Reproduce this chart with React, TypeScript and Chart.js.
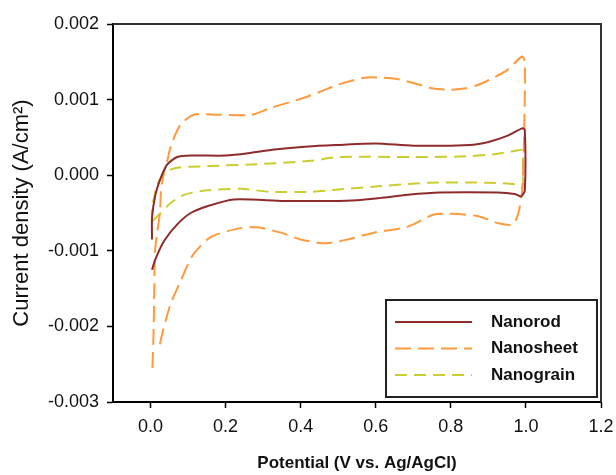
import React, { useEffect, useRef } from 'react';
import { Chart, registerables } from 'chart.js';

Chart.register(...registerables);

const seriesNames = ['Nanorod', 'Nanosheet', 'Nanograin'];
const seriesColors = ['#8e2b2b', '#ff9a3c', '#c9cd2f'];

const nanorodV = [0.004, 0.004, 0.013, 0.027, 0.044, 0.071, 0.107, 0.2, 0.26, 0.33, 0.42, 0.5, 0.6, 0.7, 0.85, 0.9, 0.95, 0.99, 0.997, 0.997, 0.987, 0.97, 0.925, 0.77, 0.685, 0.613, 0.55, 0.48, 0.355, 0.222, 0.151, 0.107, 0.071, 0.036, 0.013, 0.004];
const nanorodJ = [-0.00085, -0.00056, -0.00026, -0.00004, 0.00014, 0.00024, 0.00026, 0.00026, 0.00029, 0.00034, 0.00038, 0.0004, 0.00042, 0.00039, 0.0004, 0.00044, 0.00052, 0.00062, 0.0006, -0.0002, -0.00028, -0.00025, -0.00023, -0.00023, -0.00026, -0.0003, -0.00033, -0.00034, -0.00034, -0.00032, -0.00041, -0.0005, -0.00065, -0.00087, -0.00111, -0.00125];

const nanosheetV = [0.005, 0.008, 0.01, 0.012, 0.018, 0.025, 0.028, 0.035, 0.045, 0.055, 0.08, 0.116, 0.178, 0.27, 0.32, 0.4, 0.45, 0.5, 0.57, 0.62, 0.66, 0.7, 0.75, 0.8, 0.84, 0.87, 0.91, 0.95, 0.99, 0.997, 0.995, 0.99, 0.98, 0.965, 0.93, 0.87, 0.8, 0.755, 0.685, 0.595, 0.525, 0.467, 0.4, 0.347, 0.285, 0.24, 0.178, 0.151, 0.111, 0.08, 0.053, 0.035, 0.022];
const nanosheetJ = [-0.00255, -0.0021, -0.0015, -0.001, -0.00075, -0.0005, -0.0002, 0.00002, 0.0002, 0.0004, 0.00067, 0.0008, 0.0008, 0.0008, 0.00089, 0.00101, 0.0011, 0.0012, 0.00129, 0.00129, 0.00127, 0.00122, 0.00115, 0.00113, 0.00115, 0.00119, 0.00128, 0.00139, 0.00157, 0.0015, 0.0005, -0.0002, -0.0005, -0.00065, -0.00064, -0.00054, -0.00051, -0.00052, -0.00068, -0.00076, -0.00085, -0.0009, -0.00085, -0.00076, -0.00069, -0.0007, -0.00078, -0.00085, -0.00107, -0.0014, -0.00171, -0.00202, -0.0023];

const nanograinV = [0.004, 0.004, 0.009, 0.022, 0.044, 0.071, 0.151, 0.3, 0.427, 0.5, 0.7, 0.845, 0.92, 0.97, 0.99, 0.992, 0.99, 0.97, 0.9, 0.74, 0.6, 0.5, 0.427, 0.32, 0.24, 0.15, 0.089, 0.053, 0.027, 0.004];
const nanograinJ = [-0.00061, -0.00043, -0.0003, -0.00008, 0.00005, 0.0001, 0.00012, 0.00015, 0.00019, 0.00024, 0.00024, 0.00025, 0.00028, 0.00032, 0.00033, 0.0001, -0.00016, -0.00012, -0.0001, -0.0001, -0.00015, -0.00019, -0.00022, -0.00022, -0.00018, -0.0002, -0.00026, -0.00037, -0.0005, -0.00061];

const xTicks = [0, 0.2, 0.4, 0.6, 0.8, 1.0, 1.2];
const yTicks = [-0.003, -0.002, -0.001, 0, 0.001, 0.002];

const xTitle = 'Potential (V vs. Ag/AgCl)';
const yTitle = 'Current density (A/cm\u00B2)';

const FONT = '"Liberation Sans", Arial, sans-serif';

const toPoints = (xs: number[], ys: number[]) => xs.map((x, i) => ({ x, y: ys[i] }));

const framePlugin = {
  id: 'frame',
  afterDraw(chart: any) {
    const { ctx, chartArea } = chart;
    const { left, right, top, bottom } = chartArea;
    ctx.save();
    ctx.strokeStyle = '#333';
    ctx.lineWidth = 2;
    ctx.beginPath();
    ctx.moveTo(left, top);
    ctx.lineTo(right, top);
    ctx.lineTo(right, bottom);
    ctx.stroke();

    // legend box
    const bw = 211;
    const bh = 97;
    const bx = right - 4 - bw;
    const by = bottom - 5 - bh;
    ctx.fillStyle = '#fff';
    ctx.fillRect(bx, by, bw, bh);
    ctx.strokeStyle = '#222';
    ctx.lineWidth = 2;
    ctx.strokeRect(bx, by, bw, bh);
    ctx.font = `bold 17px ${FONT}`;
    ctx.textBaseline = 'middle';
    ctx.textAlign = 'left';
    chart.data.datasets.forEach((ds: any, i: number) => {
      const y = by + 22 + i * 26.5;
      ctx.strokeStyle = ds.borderColor;
      ctx.lineWidth = 2;
      ctx.setLineDash(ds.borderDash || []);
      ctx.beginPath();
      ctx.moveTo(bx + 9, y);
      ctx.lineTo(bx + 86, y);
      ctx.stroke();
      ctx.setLineDash([]);
      ctx.fillStyle = '#111';
      ctx.fillText(ds.label, bx + 105, y);
    });
    ctx.restore();
  },
};

export default function App() {
  const ref = useRef<HTMLCanvasElement | null>(null);

  useEffect(() => {
    if (!ref.current) return;
    const dashes = [[], [16, 7], [12, 7]];
    const series = [
      toPoints(nanorodV, nanorodJ),
      toPoints(nanosheetV, nanosheetJ),
      toPoints(nanograinV, nanograinJ),
    ];
    const chart = new Chart(ref.current, {
      type: 'scatter',
      data: {
        datasets: series.map((data, i) => ({
          label: seriesNames[i],
          data,
          showLine: true,
          borderColor: seriesColors[i],
          backgroundColor: seriesColors[i],
          borderWidth: 2,
          borderDash: dashes[i],
          pointRadius: 0,
          tension: 0.25,
          fill: false,
        })),
      },
      options: {
        animation: false,
        responsive: true,
        maintainAspectRatio: false,
        layout: { padding: { top: 24, right: 15, left: 0, bottom: 0 } },
        plugins: {
          legend: { display: false },
          tooltip: { enabled: false },
        },
        scales: {
          x: {
            type: 'linear',
            min: -0.1,
            max: 1.2,
            afterBuildTicks: (scale: any) => {
              scale.ticks = xTicks.map((v) => ({ value: v }));
            },
            afterFit: (scale: any) => {
              scale.height = 73;
              scale.paddingLeft = 0;
              scale.paddingRight = 0;
            },
            border: { display: true, color: '#000', width: 2 },
            grid: { display: true, drawOnChartArea: false, drawTicks: true, tickLength: 6, tickColor: '#000', tickWidth: 1.5 },
            ticks: {
              color: '#111',
              padding: 8,
              font: { family: FONT, size: 18 },
              maxRotation: 0,
              callback: (v: any) => Number(v).toFixed(1),
            },
            title: {
              display: true,
              text: xTitle,
              color: '#111',
              font: { family: FONT, size: 17, weight: 'bold' },
              padding: { top: 0, bottom: 1 },
            },
          },
          y: {
            type: 'linear',
            min: -0.003,
            max: 0.002,
            afterBuildTicks: (scale: any) => {
              scale.ticks = yTicks.map((v) => ({ value: v }));
            },
            afterFit: (scale: any) => {
              scale.width = 113;
              scale.paddingTop = 0;
              scale.paddingBottom = 0;
            },
            border: { display: true, color: '#000', width: 2 },
            grid: { display: true, drawOnChartArea: false, drawTicks: true, tickLength: 6, tickColor: '#000', tickWidth: 1.5 },
            ticks: {
              color: '#111',
              padding: 8,
              font: { family: FONT, size: 18 },
              callback: (v: any) => Number(v).toFixed(3),
            },
            title: {
              display: true,
              text: yTitle,
              color: '#111',
              font: { family: FONT, size: 22 },
              padding: { top: 9, bottom: 0 },
            },
          },
        },
      },
      plugins: [framePlugin],
    });
    return () => chart.destroy();
  }, []);

  return (
    <div style={{ position: 'fixed', left: 0, top: 0, width: 616, height: 475, background: '#fff' }}>
      <canvas ref={ref} />
    </div>
  );
}
